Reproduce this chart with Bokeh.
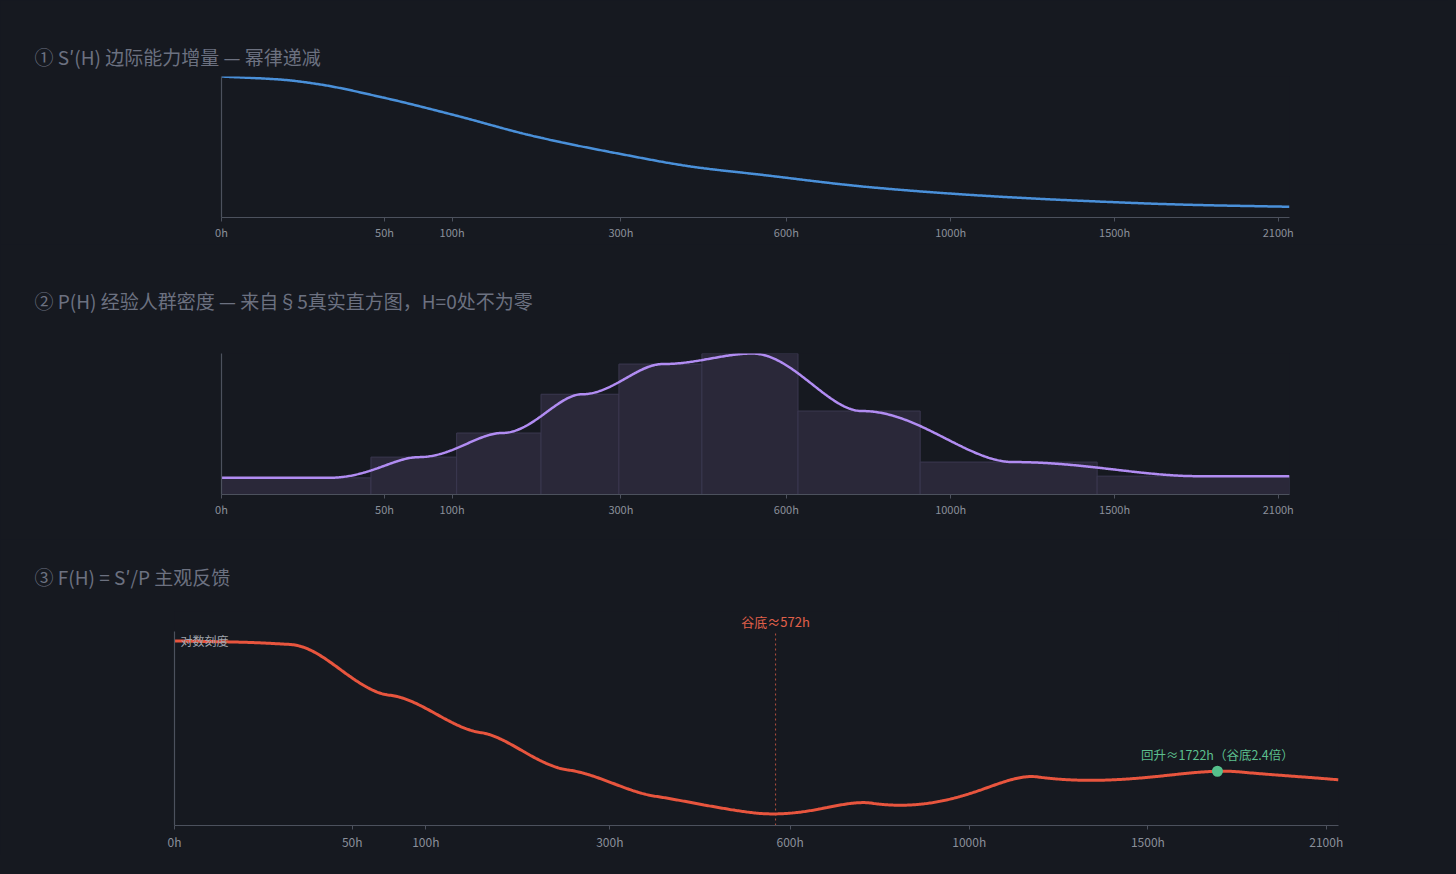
import numpy as np
from bokeh.plotting import figure
from bokeh.models import Range1d, FixedTicker, CustomJSTickFormatter, Label, LinearAxis, Title
from bokeh.embed import file_html
from bokeh.resources import INLINE

# ---------------- data ----------------
tick_hours = [0, 50, 100, 300, 600, 1000, 1500, 2100]
h_max = 2145

# panel 1: marginal gain S'(H), relative to S'(0)
s_hours = [0, 7, 17.5, 49, 102, 182, 301, 419, 548, 787, 1069, 1395, 1764, 2145]
s_values = [1.0, 0.977, 0.946, 0.851, 0.726, 0.579, 0.449, 0.359, 0.303, 0.216, 0.158, 0.118, 0.090, 0.076]

# panel 2: empirical histogram (bin edges in hours, relative density)
bin_edges = [0, 42, 104, 192, 297, 434, 625, 918, 1442, 2145]
bin_heights = [0.118, 0.265, 0.436, 0.711, 0.925, 1.0, 0.592, 0.230, 0.130]

# panel 3 annotations
valley_h = 572
rise_h = 1722
valley_text = "谷底≈572h"
rise_text = "回升≈1722h（谷底2.4倍）"
log_text = "对数刻度"

titles = [
    "① S′(H) 边际能力增量 — 幂律递减",
    "② P(H) 经验人群密度 — 来自§5真实直方图，H=0处不为零",
    "③ F(H) = S′/P 主观反馈",
]

# ---------------- styling ----------------
BG = "#161920"
AXIS = "#4c515d"
TICK_TXT = "#8a8f9a"
TITLE_TXT = "#6c7180"
FONT = "Noto Sans CJK SC"
BLUE = "#4a90d9"
PURPLE = "#b18cf2"
RED = "#e8553e"
GREEN = "#55c08c"


def pchip(xk, yk, x):
    xk = np.asarray(xk, float); yk = np.asarray(yk, float)
    h = np.diff(xk); d = np.diff(yk) / h
    n = len(xk); m = np.zeros(n)
    for k in range(1, n - 1):
        if d[k - 1] * d[k] <= 0:
            m[k] = 0.0
        else:
            w1 = 2 * h[k] + h[k - 1]; w2 = h[k] + 2 * h[k - 1]
            m[k] = (w1 + w2) / (w1 / d[k - 1] + w2 / d[k])
    m[0] = d[0]; m[-1] = d[-1]
    i = np.clip(np.searchsorted(xk, x, side="right") - 1, 0, n - 2)
    t = (x - xk[i]) / h[i]
    h00 = 2 * t**3 - 3 * t**2 + 1; h10 = t**3 - 2 * t**2 + t
    h01 = -2 * t**3 + 3 * t**2; h11 = t**3 - t**2
    return h00 * yk[i] + h10 * h[i] * m[i] + h01 * yk[i + 1] + h11 * h[i] * m[i + 1]


def density(H):
    e = np.asarray(bin_edges, float)
    c = (e[:-1] + e[1:]) / 2
    v = np.asarray(bin_heights, float)
    i = np.clip(np.searchsorted(c, H, side="right") - 1, 0, len(c) - 2)
    t = np.clip((H - c[i]) / (c[i + 1] - c[i]), 0, 1)
    s = t * t * (3 - 2 * t)
    return v[i] + (v[i + 1] - v[i]) * s


def s_prime(H):
    return pchip(np.sqrt(s_hours), s_values, np.sqrt(np.asarray(H, float)))


xmax = float(np.sqrt(h_max))
grid_x = np.linspace(0, xmax, 900)
grid_h = grid_x**2
S = s_prime(grid_h)
P = density(grid_h)
F = S / P


def style_title(t, left, standoff):
    t.align = "left"
    t.offset = 34 - left
    t.standoff = standoff
    t.text_font = FONT
    t.text_font_size = "19px"
    t.text_font_style = "normal"
    t.text_color = TITLE_TXT


def make_fig(title, frame_h, left, frame_w, right, top, bottom, y_range, y_type="linear",
             tick_size="11px", standoff=2, title_standoff=80):
    p = figure(frame_width=frame_w, frame_height=frame_h,
               min_border_left=left, min_border_right=right,
               min_border_top=top, min_border_bottom=bottom,
               x_range=Range1d(0, xmax), y_range=y_range, y_axis_type=y_type,
               output_backend="svg", toolbar_location=None,
               background_fill_color=BG, border_fill_color=BG)
    p.outline_line_color = None
    if title is not None:
        p.title.text = title
        style_title(p.title, left, title_standoff)
    p.grid.visible = False
    xa = p.xaxis[0]
    xa.ticker = FixedTicker(ticks=[float(np.sqrt(t)) for t in tick_hours])
    xa.formatter = CustomJSTickFormatter(code="return Math.round(tick*tick) + 'h';")
    xa.axis_line_color = AXIS
    xa.axis_line_width = 1.2
    xa.major_tick_line_color = AXIS
    xa.major_tick_in = 0
    xa.major_tick_out = 4
    xa.minor_tick_line_color = None
    xa.major_label_text_font = FONT
    xa.major_label_text_font_size = tick_size
    xa.major_label_text_color = TICK_TXT
    xa.major_label_standoff = standoff
    ya = p.yaxis[0]
    ya.ticker = FixedTicker(ticks=[])
    ya.axis_line_color = AXIS
    ya.axis_line_width = 1.2
    ya.major_tick_line_color = None
    ya.minor_tick_line_color = None
    return p


W = 1448

# ---------------- panel 1 ----------------
p1 = make_fig(None, 141, 221, 1068, W - 221 - 1068, 76, 27, Range1d(0, 1.0))
p1.title = None
# empty spacer next to the plot area (no ticks, no labels, no line), title placed outside it
spacer = LinearAxis(ticker=FixedTicker(ticks=[]), axis_line_color=None,
                    major_tick_line_color=None, minor_tick_line_color=None,
                    major_tick_in=0, major_tick_out=34, major_label_standoff=0)
p1.add_layout(spacer, "above")
t1 = Title(text=titles[0])
style_title(t1, 221, 13)
p1.add_layout(t1, "above")
p1.line(grid_x, S, line_color=BLUE, line_width=2.5)

# ---------------- panel 2 ----------------
p2 = make_fig(titles[1], 141, 221, 1068, W - 221 - 1068, 109, 45, Range1d(0, 1.0))
e = np.sqrt(np.asarray(bin_edges, float))
p2.quad(left=e[:-1], right=e[1:], bottom=0, top=bin_heights,
        fill_color="#2a2839", line_color="#3b3850", line_width=1)
p2.line(grid_x, P, line_color=PURPLE, line_width=2.5)

# ---------------- panel 3 ----------------
fmin, fmaxv = float(F.min()), float(F.max())
lo, hi = fmin * 0.8, fmaxv * 1.2          # visible axis extent
main_h, extra_h = 194, 20                  # extra head-room for the valley label
decades = np.log10(hi / lo)
top_end = hi * 10 ** (decades * extra_h / main_h)
p3 = make_fig(titles[2], main_h + extra_h, 174, 1164, W - 174 - 1164, 72, 30, Range1d(lo, top_end),
              y_type="log", tick_size="12px", standoff=3, title_standoff=43)
p3.yaxis[0].bounds = (lo, hi)
vx = float(np.sqrt(valley_h))
p3.segment(x0=[vx], y0=[lo], x1=[vx], y1=[hi], line_color="#b8503e", line_dash="2 3", line_width=1)
p3.line(grid_x, F, line_color=RED, line_width=3)
rise_f = float(s_prime([rise_h])[0] / density(np.array([rise_h], float))[0])
p3.scatter([float(np.sqrt(rise_h))], [rise_f], size=11, fill_color=GREEN, line_color=None)
p3.add_layout(Label(x=vx, y=hi, text=valley_text, text_align="center",
                    text_baseline="bottom", y_offset=1, text_font=FONT, text_font_size="13px",
                    text_color="#e0604a"))
p3.add_layout(Label(x=float(np.sqrt(rise_h)), y=rise_f, text=rise_text, text_align="center",
                    text_baseline="bottom", y_offset=7, text_font=FONT, text_font_size="12.5px",
                    text_color="#5cbf8e"))
p3.add_layout(Label(x=0, y=fmaxv, text=log_text, text_align="left", text_baseline="middle",
                    x_offset=6, text_font=FONT, text_font_size="12px", text_color="#a0a4ad"))

html = file_html([p1, p2, p3], INLINE)
css = "<style>html,body{margin:0;padding:0;background:%s;overflow:hidden;}</style></head>" % BG
html = html.replace("</head>", css, 1)
open("out.html", "w").write(html)
